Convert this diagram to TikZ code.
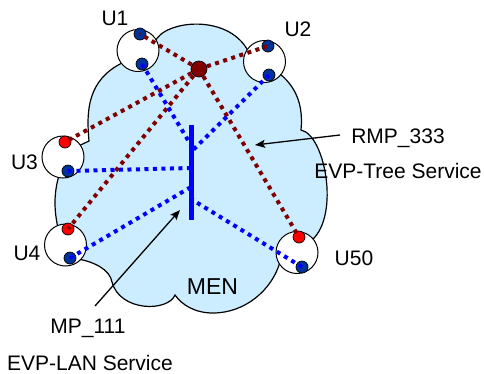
\documentclass[tikz,border=0pt]{standalone}
\usepackage{fontspec}
\setmainfont{Liberation Sans}
\usetikzlibrary{arrows.meta}
\definecolor{nuvola}{RGB}{204,236,255}
\definecolor{rossoscuro}{RGB}{128,0,0}
\definecolor{bluscuro}{RGB}{0,51,153}

\begin{document}
\begin{tikzpicture}
    [x=1pt, y=-1pt,
     utente/.style={circle, draw, line width=1pt, fill=white, minimum size=42pt, inner sep=0pt},
     punto/.style={circle, draw, line width=0.7pt, minimum size=12pt, inner sep=0pt},
     rosso/.style={punto, fill=red},
     blu/.style={punto, fill=bluscuro},
     albero/.style={rossoscuro, line width=4pt, dash pattern=on 4pt off 4.5pt},
     lan/.style={blue, line width=4pt, dash pattern=on 4pt off 4.5pt},
     freccia/.style={line width=1.3pt, -{Stealth[length=10pt, width=8pt, inset=2pt]}},
     testo/.style={anchor=base, inner sep=0pt, font=\fontsize{21}{25}\selectfont}]
    \useasboundingbox (0,0) rectangle (484,373);

    % rete MEN
    \draw[fill=nuvola, line width=1.2pt] (155,42) .. controls (163,20) and (232,12) .. (250,55) -- (280,74)
        .. controls (292,84) and (304,100) .. (301,130)
        .. controls (325,135) and (340,215) .. (312,240) -- (280,262)
        .. controls (272,290) and (245,313) .. (213,313)
        .. controls (195,313) and (182,305) .. (175,295)
        .. controls (168,312) and (120,312) .. (112,282)
        .. controls (110,270) and (95,262) .. (78,259) -- (58,228)
        .. controls (54,210) and (54,195) .. (58,179) -- (70,150) -- (89,141)
        .. controls (86,110) and (88,80) .. (122,63) -- cycle;

    % utenti
    \node[utente] (u1) at (138,50.5) {};
    \node[utente] (u2) at (264.5,61.5) {};
    \node[utente] (u3) at (63,157) {};
    \node[utente] (u4) at (65.5,245) {};
    \node[utente] (u50) at (297,252.5) {};

    \node[blu] (t1) at (140,34) {};
    \node[blu] (b1) at (142,64) {};
    \node[blu] (t2) at (268,46) {};
    \node[blu] (b2) at (269,75) {};
    \node[rosso] (t3) at (65,142) {};
    \node[blu] (b3) at (68,171) {};
    \node[rosso] (t4) at (68,229) {};
    \node[blu] (b4) at (70,258) {};
    \node[rosso] (t50) at (299,237) {};
    \node[blu] (b50) at (302,267) {};

    % EVP-Tree
    \coordinate (radice) at (199,69);
    \draw[albero] (radice) -- (t1.center);
    \draw[albero] (radice) -- (t2.center);
    \draw[albero] (radice) -- (t3.center);
    \draw[albero] (radice) -- (t4.center);
    \draw[albero] (radice) -- (t50.center);
    \node[punto, fill=rossoscuro, minimum size=16pt] (hub) at (radice) {};

    % EVP-LAN
    \coordinate (p1) at (191,145);
    \coordinate (p2) at (191,152);
    \coordinate (p3) at (191,168);
    \coordinate (p4) at (191,187);
    \coordinate (p50) at (191,199);
    \draw[lan] (b1.center) -- (p1);
    \draw[lan] (b2.center) -- (p2);
    \draw[lan] (b3.center) -- (p3);
    \draw[lan] (b4.center) -- (p4);
    \draw[lan] (b50.center) -- (p50);
    \node[fill=blue, minimum width=5.5pt, minimum height=95pt, inner sep=0pt] (barra) at (191.3,172.5) {};

    % etichette
    \node[testo] (l1) at (115,25) {U1};
    \node[testo] (l2) at (298,36) {U2};
    \node[testo] (l3) at (24.5,169) {U3};
    \node[testo] (l4) at (27,260) {U4};
    \node[testo] (l50) at (354,265) {U50};
    \node[testo, font=\fontsize{23}{27}\selectfont] (men) at (212.5,294) {MEN};
    \node[testo] (rmp) at (398,143) {RMP\_333};
    \node[testo] (tree) at (398,178) {EVP-Tree Service};
    \node[testo] (mp) at (88,333) {MP\_111};
    \node[testo] (elan) at (90,370) {EVP-LAN Service};

    \coordinate (codaR) at (340,135);
    \coordinate (puntaR) at (255,145);
    \draw[freccia] (codaR) -- (puntaR);
    \coordinate (codaM) at (95,306);
    \coordinate (puntaM) at (180,210);
    \draw[freccia] (codaM) -- (puntaM);

\end{tikzpicture}
\end{document}
